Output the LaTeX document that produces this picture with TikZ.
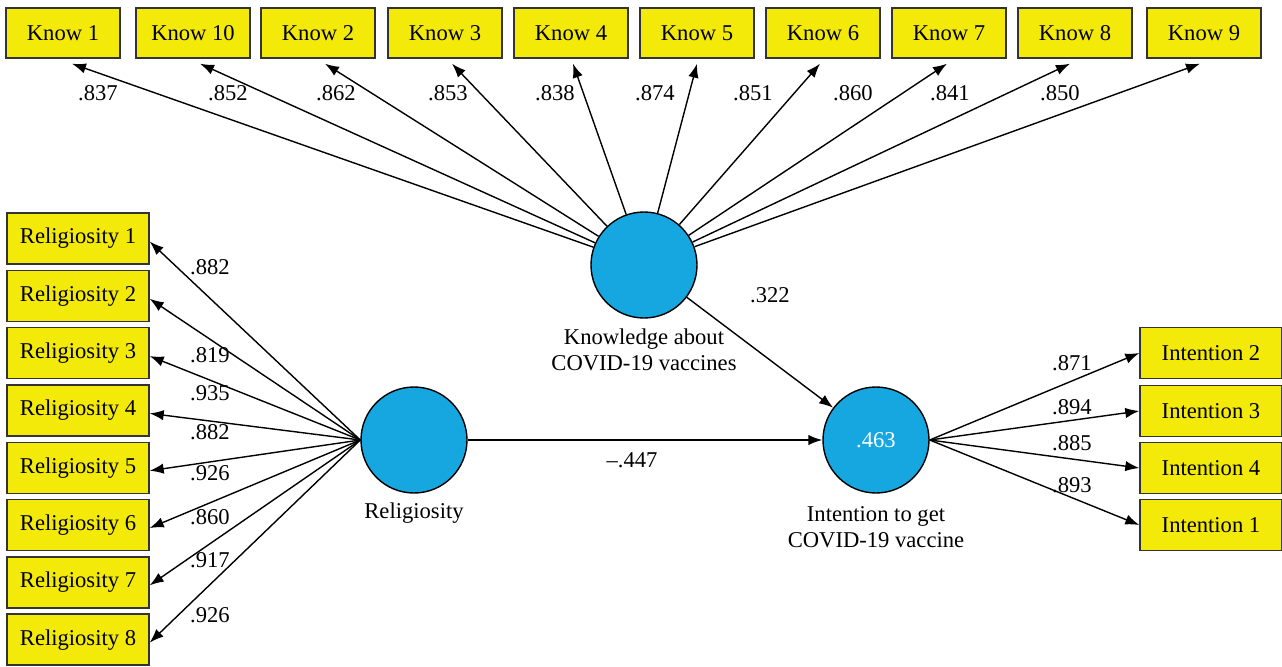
\documentclass[tikz,border=0pt]{standalone}
\usepackage{fontspec}
\setmainfont{Liberation Serif}
\usetikzlibrary{arrows.meta}
\definecolor{boxyellow}{RGB}{243,234,10}
\definecolor{lvblue}{RGB}{22,167,224}
\begin{document}
\begin{tikzpicture}[x=0.5pt,y=-0.5pt,
  ind/.style={draw=black!80,fill=boxyellow,line width=0.7pt,minimum width=57pt,minimum height=25pt,inner sep=0pt,font=\fontsize{11.3}{13}\selectfont},
  wide/.style={minimum width=71pt,minimum height=25.5pt},
  lv/.style={circle,draw=black,fill=lvblue,line width=0.7pt,minimum size=53pt,inner sep=0pt,font=\fontsize{11.3}{13}\selectfont},
  lab/.style={font=\fontsize{11.3}{13}\selectfont,align=center,inner sep=0pt},
  load/.style={->,>={Latex[length=7pt,width=5.2pt]},line width=0.7pt}]
\useasboundingbox (0,0) rectangle (1282,666);

% latent variables
\node[lv] (know) at (644,265) {};
\node[lv] (rel) at (414,440) {};
\node[lv,text=white] (int) at (876,440) {.463};
\node[lab] (knowlab) at (644,350) {Knowledge about\\COVID-19 vaccines};
\node[lab] (rellab) at (414,513) {Religiosity};
\node[lab] (intlab) at (876,527) {Intention to get\\COVID-19 vaccine};

% knowledge indicators
\foreach \n/\x/\dx/\v/\lx in {1/63/9/.837/98,10/193/7/.852/228,2/318/7/.862/336,3/445/7/.853/448,4/571/2/.838/555,5/697/0/.874/655,6/823/-3/.851/753,7/949/-2/.860/853,8/1075/-5/.841/950,9/1204/-4/.850/1060}{
  \node[ind] (k\n) at (\x,33) {Know \n};
  \draw[load] (know) -- ([xshift=\dx*0.5pt,yshift=-2.5pt]k\n.south);
  \node[lab] (lk\n) at (\lx,93) {\v};
}

% religiosity indicators
\foreach \i/\v/\ly in {1/.882/267,2/.819/355,3/.935/393,4/.882/432,5/.926/473,6/.860/517,7/.917/560,8/.926/615}{
  \node[ind,wide] (r\i) at (78,{238.5+57.3*(\i-1)}) {Religiosity \i};
  \draw[load] (rel.west) -- ([yshift=-1.5pt]r\i.east);
  \node[lab] (lr\i) at (210,\ly) {\v};
}

% intention indicators
\foreach \i/\y/\v/\ly in {2/353/.871/363,3/411/.894/407,4/468/.885/443,1/525/.893/485}{
  \node[ind,wide] (i\i) at (1211,\y) {Intention \i};
  \draw[load] (int.east) -- (i\i.west);
  \node[lab] (li\i) at (1072,\ly) {\v};
}

% paths
\draw[load] (know) -- (int);
\draw[load] (rel) -- (int);
\node[lab] (p1) at (770,295) {.322};
\node[lab] (p2) at (632,460) {--.447};

\end{tikzpicture}
\end{document}
